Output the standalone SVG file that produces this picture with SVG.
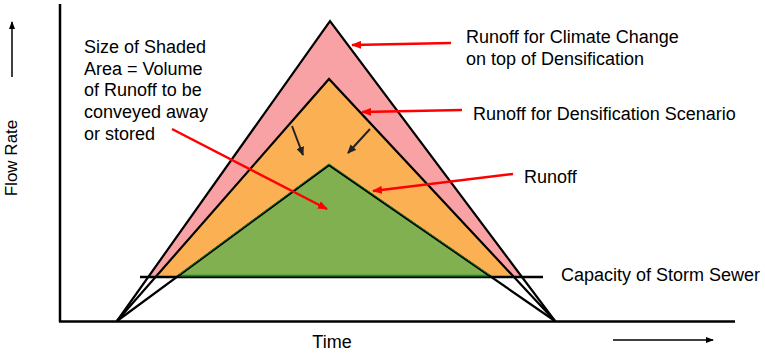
<svg xmlns="http://www.w3.org/2000/svg" width="765" height="354" viewBox="0 0 765 354">
<defs>
<marker id="redhead" markerWidth="10" markerHeight="8" refX="9" refY="4" orient="auto" markerUnits="userSpaceOnUse">
<path d="M0,0 L10,4 L0,8 Z" fill="#FF0000"/>
</marker>
<marker id="darkhead" markerWidth="9" markerHeight="8" refX="8" refY="4" orient="auto" markerUnits="userSpaceOnUse">
<path d="M0,0 L9,4 L0,8 Z" fill="#222"/>
</marker>
<marker id="smallhead" markerWidth="8" markerHeight="6" refX="7" refY="3" orient="auto" markerUnits="userSpaceOnUse">
<path d="M0,0 L8,3 L0,6 Z" fill="#000"/>
</marker>
</defs>
<style>
.lbl{font-family:"Liberation Sans",Arial,sans-serif;font-size:18px;fill:#000}
.edge{stroke:#000;stroke-width:2.2;fill:none}
.red{stroke:#FF0000;stroke-width:2.5;fill:none;marker-end:url(#redhead)}
.dark{stroke:#222;stroke-width:2;fill:none;marker-end:url(#darkhead)}
.thin{stroke:#000;stroke-width:1.5;fill:none;marker-end:url(#smallhead)}
</style>
<rect width="765" height="354" fill="#fff"/>
<g id="axes">
<line x1="60" y1="4" x2="60" y2="322" stroke="#000" stroke-width="2.5"/>
<line x1="59" y1="321.5" x2="735" y2="321.5" stroke="#000" stroke-width="2.5"/>
<line class="thin" x1="12" y1="77" x2="12" y2="22"/>
<line class="thin" x1="613" y1="340" x2="713" y2="340"/>
</g>
<g id="fills">
<polygon points="330,21 149,276 521,276" fill="#F9A2A5"/>
<polygon points="329,79 156.4,276 513,276" fill="#FBB054"/>
<polygon points="329,165 178,276 490,276" fill="#80B04F"/>
</g>
<g id="capacity">
<line x1="140" y1="277" x2="543" y2="277" stroke="#000" stroke-width="2.5"/>
<line x1="178" y1="275.6" x2="490" y2="275.6" stroke="#1a8a2a" stroke-width="1.8"/>
</g>
<g id="curves">
<polyline class="edge" points="117,321 330,21 555,321"/>
<polyline class="edge" points="117,321 329,79 555,321"/>
<polyline class="edge" points="117,321 329,165 555,321"/>
<polyline points="178.5,275 329,164 489.5,275" fill="none" stroke="#1a7a2a" stroke-width="1"/>
</g>
<g id="connectors">
<line class="red" x1="451" y1="43" x2="352" y2="45"/>
<line class="red" x1="462" y1="110" x2="362" y2="112"/>
<line class="red" x1="513" y1="174" x2="373" y2="191"/>
<line class="red" x1="172" y1="129" x2="327" y2="209"/>
<line class="dark" x1="292" y1="126" x2="303" y2="155"/>
<line class="dark" x1="370" y1="129" x2="348" y2="153"/>
</g>
<g id="label-shaded">
<text class="lbl" x="84" y="53">Size of Shaded</text>
<text class="lbl" x="84" y="74.5">Area = Volume</text>
<text class="lbl" x="84" y="96">of Runoff to be</text>
<text class="lbl" x="84" y="118">conveyed away</text>
<text class="lbl" x="84" y="140">or stored</text>
</g>
<g id="label-climate">
<text class="lbl" x="466" y="43">Runoff for Climate Change</text>
<text class="lbl" x="466" y="65">on top of Densification</text>
</g>
<g id="label-densification">
<text class="lbl" x="473" y="120">Runoff for Densification Scenario</text>
</g>
<g id="label-runoff">
<text class="lbl" x="524" y="183">Runoff</text>
</g>
<g id="label-capacity">
<text class="lbl" x="561" y="281">Capacity of Storm Sewer</text>
</g>
<g id="label-time">
<text class="lbl" x="332" y="348" text-anchor="middle">Time</text>
</g>
<g id="label-flow">
<text class="lbl" transform="translate(17,158) rotate(-90)" text-anchor="middle" style="font-size:17px">Flow Rate</text>
</g>
</svg>
